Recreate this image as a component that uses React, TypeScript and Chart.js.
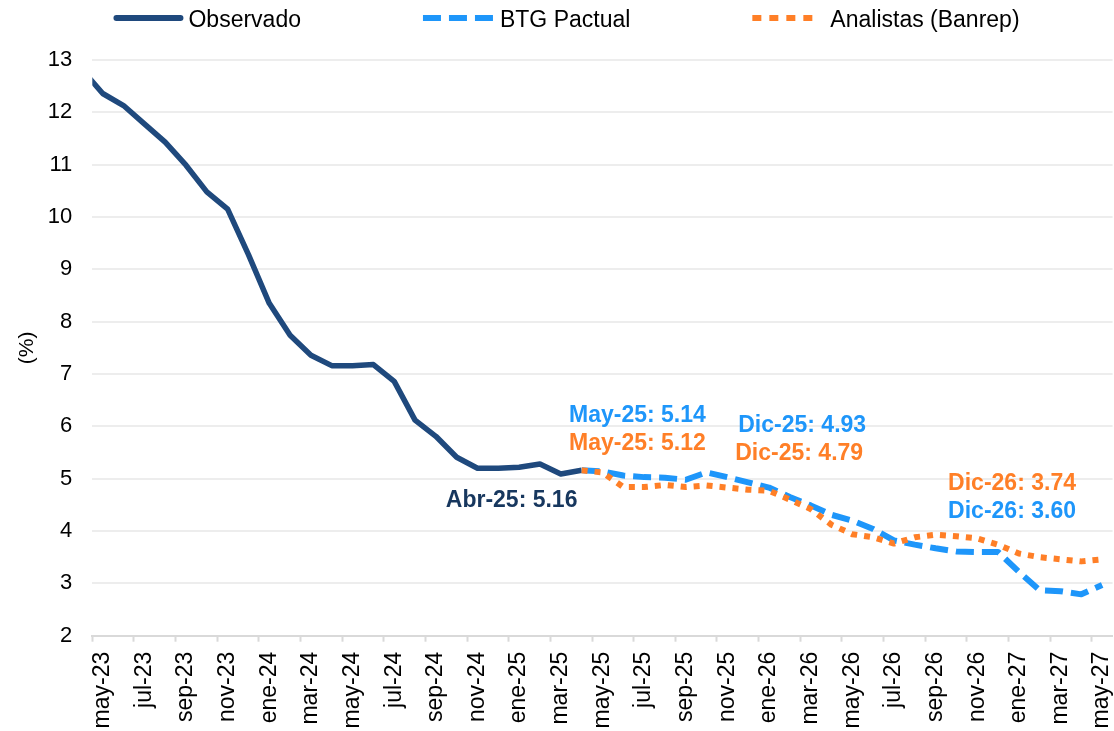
import React, { useEffect, useRef } from 'react';
import { Chart, registerables } from 'chart.js';

Chart.register(...registerables);

// ---------- Data ----------
// Monthly categories (abr-23 is only used so the observed line enters from the left edge)
const categories: string[] = [
  'abr-23', 'may-23', 'jun-23', 'jul-23', 'ago-23', 'sep-23', 'oct-23', 'nov-23', 'dic-23',
  'ene-24', 'feb-24', 'mar-24', 'abr-24', 'may-24', 'jun-24', 'jul-24', 'ago-24', 'sep-24', 'oct-24', 'nov-24', 'dic-24',
  'ene-25', 'feb-25', 'mar-25', 'abr-25', 'may-25', 'jun-25', 'jul-25', 'ago-25', 'sep-25', 'oct-25', 'nov-25', 'dic-25',
  'ene-26', 'feb-26', 'mar-26', 'abr-26', 'may-26', 'jun-26', 'jul-26', 'ago-26', 'sep-26', 'oct-26', 'nov-26', 'dic-26',
  'ene-27', 'feb-27', 'mar-27', 'abr-27', 'may-27',
];
const firstVisible = 'may-23';
const lastVisible = 'may-27';

// Observado: abr-23 .. abr-25
const observado: number[] = [
  12.82, 12.36, 12.13, 11.78, 11.43, 10.99, 10.48, 10.15, 9.28,
  8.35, 7.74, 7.36, 7.16, 7.16, 7.18, 6.86, 6.12, 5.81, 5.41, 5.20, 5.20,
  5.22, 5.28, 5.09, 5.16,
];
const observadoStart = 'abr-23';

// BTG Pactual: abr-25 .. may-27
const btgPactual: number[] = [
  5.16, 5.14, 5.06, 5.03, 5.02, 4.98, 5.12, 5.03, 4.93,
  4.83, 4.65, 4.49, 4.31, 4.20, 4.04, 3.82, 3.74, 3.67, 3.61, 3.60, 3.60,
  3.22, 2.87, 2.85, 2.79, 2.97,
];
const btgStart = 'abr-25';

// Analistas (Banrep): abr-25 .. may-27
const analistas: number[] = [
  5.16, 5.12, 4.84, 4.84, 4.88, 4.84, 4.87, 4.83, 4.79,
  4.77, 4.60, 4.42, 4.12, 3.94, 3.88, 3.76, 3.88, 3.93, 3.90, 3.86, 3.74,
  3.57, 3.50, 3.46, 3.42, 3.46,
];
const analistasStart = 'abr-25';

const seriesNames = ['Observado', 'BTG Pactual', 'Analistas (Banrep)'];

const yMin = 2;
const yMax = 13;
const yStep = 1;
const yTitle = '(%)';

// Point labels: text, series, category
const pointLabels = [
  { series: 0, category: 'abr-25', text: 'Abr-25: 5.16' },
  { series: 1, category: 'may-25', text: 'May-25: 5.14' },
  { series: 2, category: 'may-25', text: 'May-25: 5.12' },
  { series: 1, category: 'dic-25', text: 'Dic-25: 4.93' },
  { series: 2, category: 'dic-25', text: 'Dic-25: 4.79' },
  { series: 2, category: 'dic-26', text: 'Dic-26: 3.74' },
  { series: 1, category: 'dic-26', text: 'Dic-26: 3.60' },
];

// ---------- Styles ----------
const FONT = '"Liberation Sans", Arial, Helvetica, sans-serif';
const NAVY = '#1F497D';
const NAVY_TEXT = '#17375E';
const BLUE = '#1E96FA';
const ORANGE = '#FF7F27';
const GRID = '#EDEDED';
const AXIS = '#D9D9D9';

const seriesStyles = [
  { color: NAVY, textColor: NAVY_TEXT, width: 5.5, dash: [] as number[], order: 2 },
  { color: BLUE, textColor: BLUE, width: 6, dash: [18, 8], order: 1 },
  { color: ORANGE, textColor: ORANGE, width: 6, dash: [6, 7], order: 0 },
];

// label offsets (px) relative to the data point: [dx, dy to cap-centre]
const labelOffsets: [number, number][] = [
  [-70, 28], [35, -58], [35, -31], [54, -59], [51, -38], [14, -63], [14, -42],
];

const legendStyles = [
  { sample: 70, gap: 5, dash: [] as number[], cap: 'round' as CanvasLineCap },
  { sample: 70, gap: 7, dash: [18, 8], cap: 'butt' as CanvasLineCap },
  { sample: 60, gap: 18, dash: [9, 8], cap: 'butt' as CanvasLineCap },
];

const CANVAS_W = 1140;
const CANVAS_H = 731;

function pad(values: number[], startLabel: string): (number | null)[] {
  const start = categories.indexOf(startLabel);
  return categories.map((_, i) => (i >= start && i - start < values.length ? values[i - start] : null));
}

const valueLabelPlugin = {
  id: 'valueLabels',
  afterDatasetsDraw(chart: any) {
    const { ctx, scales } = chart;
    const xs = scales.x;
    const ys = scales.y;
    const fontSize = 23;
    ctx.save();
    ctx.font = `bold ${fontSize}px ${FONT}`;
    ctx.textAlign = 'center';
    ctx.textBaseline = 'alphabetic';
    pointLabels.forEach((pl, k) => {
      const ds = chart.data.datasets[pl.series];
      const idx = categories.indexOf(pl.category);
      const v = ds.data[idx];
      const px = xs.getPixelForValue(idx);
      const py = ys.getPixelForValue(v);
      const [dx, dy] = labelOffsets[k];
      ctx.fillStyle = seriesStyles[pl.series].textColor;
      ctx.fillText(pl.text, px + dx, py + dy + fontSize * 0.36);
    });
    ctx.restore();
  },
};

const legendPlugin = {
  id: 'lineLegend',
  afterDraw(chart: any) {
    const { ctx } = chart;
    const fontSize = 23;
    const itemGap = 122;
    const centerX = 566.5;
    const yLine = 18;
    const yText = 26.5;
    ctx.save();
    ctx.font = `${fontSize}px ${FONT}`;
    const widths = seriesNames.map((n, i) => legendStyles[i].sample + legendStyles[i].gap + ctx.measureText(n).width);
    const total = widths.reduce((a, b) => a + b, 0) + itemGap * (seriesNames.length - 1);
    let x = centerX - total / 2;
    seriesNames.forEach((name, i) => {
      const ls = legendStyles[i];
      const st = seriesStyles[i];
      ctx.beginPath();
      ctx.strokeStyle = st.color;
      ctx.lineWidth = 6;
      ctx.lineCap = ls.cap;
      ctx.setLineDash(ls.dash);
      const inset = ls.cap === 'round' ? 3 : 0;
      ctx.moveTo(x + inset, yLine);
      ctx.lineTo(x + ls.sample - inset, yLine);
      ctx.stroke();
      ctx.setLineDash([]);
      ctx.fillStyle = '#000';
      ctx.textAlign = 'left';
      ctx.textBaseline = 'alphabetic';
      ctx.fillText(name, x + ls.sample + ls.gap, yText);
      x += widths[i] + itemGap;
    });
    ctx.restore();
  },
};

export default function App() {
  const canvasRef = useRef<HTMLCanvasElement | null>(null);

  useEffect(() => {
    if (!canvasRef.current) return;
    const dataArrays = [pad(observado, observadoStart), pad(btgPactual, btgStart), pad(analistas, analistasStart)];
    const datasets = seriesNames.map((name, i) => ({
      label: name,
      data: dataArrays[i],
      borderColor: seriesStyles[i].color,
      backgroundColor: seriesStyles[i].color,
      borderWidth: seriesStyles[i].width,
      borderDash: seriesStyles[i].dash,
      borderCapStyle: 'butt' as const,
      borderJoinStyle: 'round' as const,
      pointRadius: 0,
      pointHoverRadius: 0,
      tension: 0,
      fill: false,
      spanGaps: false,
      order: seriesStyles[i].order,
    }));

    const chart = new Chart(canvasRef.current, {
      type: 'line',
      data: { labels: categories, datasets },
      plugins: [valueLabelPlugin, legendPlugin],
      options: {
        responsive: false,
        animation: false,
        devicePixelRatio: 1,
        layout: { padding: { top: 60, right: 25, bottom: 0, left: 0 } },
        plugins: {
          legend: { display: false },
          tooltip: { enabled: false },
          title: { display: false },
        },
        scales: {
          x: {
            type: 'category',
            min: firstVisible,
            max: lastVisible,
            offset: true,
            afterFit: (scale: any) => {
              scale.height = 95.3;
            },
            grid: {
              display: true,
              offset: true,
              drawOnChartArea: false,
              drawTicks: true,
              tickLength: 6,
              tickWidth: 2,
              tickColor: (ctx: any) => (ctx.index % 2 === 0 ? AXIS : 'rgba(0,0,0,0)'),
            },
            border: { display: true, color: AXIS, width: 2 },
            ticks: {
              autoSkip: false,
              minRotation: 90,
              maxRotation: 90,
              padding: 10,
              color: '#000',
              font: { family: FONT, size: 23 },
              callback: function (this: any, value: any, index: number) {
                return index % 2 === 0 ? this.getLabelForValue(value) : '';
              },
            },
          },
          y: {
            min: yMin,
            max: yMax,
            afterFit: (scale: any) => {
              scale.width = 92.3;
            },
            ticks: {
              stepSize: yStep,
              padding: 20,
              color: '#000',
              font: { family: FONT, size: 22 },
            },
            grid: {
              drawTicks: false,
              lineWidth: 2,
              color: (ctx: any) => (ctx.tick && ctx.tick.value === yMin ? 'rgba(0,0,0,0)' : GRID),
            },
            border: { display: false },
            title: {
              display: true,
              text: yTitle,
              color: '#000',
              font: { family: FONT, size: 21 },
              padding: { top: 14.4, bottom: 0 },
            },
          },
        },
      },
    } as any);

    return () => chart.destroy();
  }, []);

  return (
    <div
      style={{
        position: 'fixed',
        left: 0,
        top: 0,
        width: 1114,
        height: 731,
        overflow: 'hidden',
        background: '#fff',
      }}
    >
      <canvas
        ref={canvasRef}
        width={CANVAS_W}
        height={CANVAS_H}
        style={{ display: 'block', width: CANVAS_W, height: CANVAS_H }}
      />
    </div>
  );
}
